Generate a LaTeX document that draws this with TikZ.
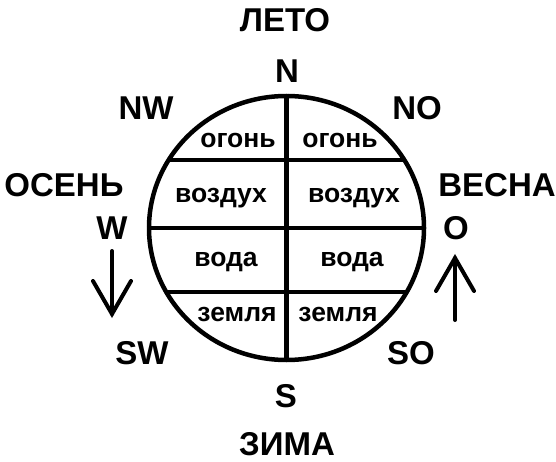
\documentclass[tikz,border=0pt]{standalone}
\usepackage{fontspec}
\setmainfont{Liberation Sans}
\usetikzlibrary{shapes.geometric}
\begin{document}
\begin{tikzpicture}[x=1pt,y=-1pt,
  outer/.style={font=\fontsize{33}{33}\selectfont\bfseries, inner sep=0pt, anchor=center},
  inner/.style={font=\fontsize{26.5}{26.5}\selectfont\bfseries, inner sep=0pt, anchor=base},
  rim/.style={line width=4.5pt},
  arr/.style={line width=4pt, line cap=round, line join=miter}]
\useasboundingbox (0,0) rectangle (556,462);
% wheel
\node[ellipse, draw, rim, minimum width=275pt, minimum height=264pt, inner sep=0pt] (c) at (286.5,228) {};
\coordinate (l1) at (168.6,160); \coordinate (r1) at (404.4,160);
\coordinate (l3) at (166.2,292); \coordinate (r3) at (406.8,292);
\draw[rim] (c.north) -- (c.south);
\draw[rim] (c.west) -- (c.east);
\draw[rim] (l1) -- (r1);
\draw[rim] (l3) -- (r3);
% inner labels
\node[inner] (f1) at (238,148) {огонь};
\node[inner] (f2) at (340,148) {огонь};
\node[inner] (a1) at (221,203) {воздух};
\node[inner] (a2) at (354,203) {воздух};
\node[inner] (w1) at (226,266) {вода};
\node[inner] (w2) at (352,266) {вода};
\node[inner] (e1) at (237,321) {земля};
\node[inner] (e2) at (338,321) {земля};
% outer labels
\node[outer] (leto) at (285,20) {ЛЕТО};
\node[outer] (n) at (287,71) {N};
\node[outer] (nw) at (146,108) {NW};
\node[outer] (no) at (417,108) {NO};
\node[outer] (osen) at (64,185) {ОСЕНЬ};
\node[outer] (w) at (112,228) {W};
\node[outer] (vesna) at (497,185) {ВЕСНА};
\node[outer] (o) at (456,228) {O};
\node[outer] (sw) at (142,353) {SW};
\node[outer] (so) at (411,353) {SO};
\node[outer] (s) at (286,396) {S};
\node[outer] (zima) at (287,444) {ЗИМА};
% arrows
\coordinate (d0) at (112,251); \coordinate (d1) at (112,314);
\coordinate (dl) at (93,281); \coordinate (dr) at (131,281);
\draw[arr] (d0) -- (d1);
\draw[arr] (dl) -- (d1) -- (dr);
\coordinate (u0) at (455,320); \coordinate (u1) at (455,258);
\coordinate (ul) at (436,291); \coordinate (ur) at (474,291);
\draw[arr] (u0) -- (u1);
\draw[arr] (ul) -- (u1) -- (ur);
\end{tikzpicture}
\end{document}
